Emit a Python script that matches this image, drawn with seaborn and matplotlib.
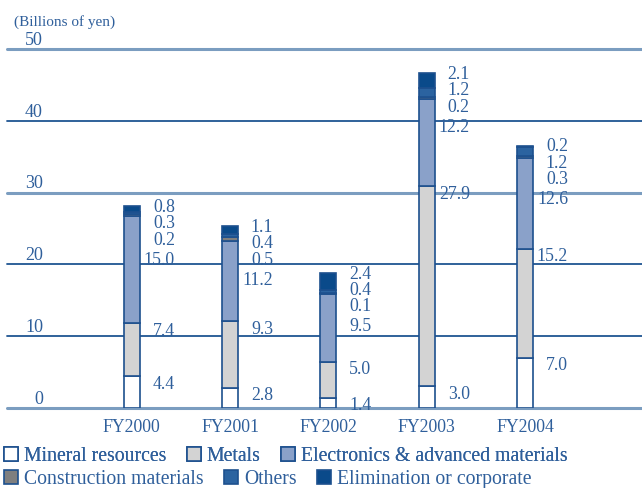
import matplotlib
matplotlib.use("Agg")
import matplotlib.pyplot as plt
from matplotlib.patches import Patch
import matplotlib.transforms as mtransforms
import numpy as np
import pandas as pd
import seaborn as sns

# Operating income by segment (billions of yen)
years = ["FY2000", "FY2001", "FY2002", "FY2003", "FY2004"]
mineral = [4.4, 2.8, 1.4, 3.0, 7.0]
metals = [7.4, 9.3, 5.0, 27.9, 15.2]
electronics = [15.0, 11.2, 9.5, 12.2, 12.6]
construction = [0.2, 0.5, 0.1, 0.2, 0.3]
others = [0.3, 0.4, 0.4, 1.2, 1.2]
elimination = [0.8, 1.1, 2.4, 2.1, 0.2]

segment_names = ["Mineral resources", "Metals", "Electronics & advanced materials",
                 "Construction materials", "Others", "Elimination or corporate"]
segment_values = [mineral, metals, electronics, construction, others, elimination]
segment_colors = ["#ffffff", "#d3d3d3", "#8aa1c9", "#7f7f7f", "#2b63a0", "#0a4a8a"]

y_ticks = [0, 10, 20, 30, 40, 50]
heavy_rules = [0, 30, 50]

TEXT = "#2f5f9b"
EDGE = "#1d508e"
DARK_LINE = "#1f5592"
LIGHT_LINE = "#7b9dc0"

sns.set_theme(style="white")
plt.rcParams["font.family"] = ["Liberation Serif", "DejaVu Serif"]

fig = plt.figure(figsize=(6.42, 4.89), dpi=100)
ax = fig.add_axes([7 / 642, 1 - 409 / 489, 1 - 7 / 642, (409 - 50) / 489])

# stacked bars, one seaborn layer per segment
bottoms = np.zeros(len(years))
for name, vals, color in zip(segment_names, segment_values, segment_colors):
    df = pd.DataFrame({"year": years, "value": vals})
    sns.barplot(data=df, x="year", y="value", ax=ax, color=color, width=0.163,
                bottom=bottoms, edgecolor=EDGE, linewidth=1.2, saturation=1,
                zorder=3)
    bottoms = bottoms + np.array(vals)

ax.set_xlim(-1.27, 5.19)
ax.set_ylim(0, 50)

# horizontal rules
for t in y_ticks:
    heavy = t in heavy_rules
    ax.axhline(t, color=LIGHT_LINE if heavy else DARK_LINE,
               lw=2.2 if heavy else 1.3, zorder=1, clip_on=False)

for s in ax.spines.values():
    s.set_visible(False)
ax.set_yticks([])
ax.set_xlabel("")
ax.set_ylabel("")
ax.tick_params(axis="x", length=0, pad=7, labelsize=12.8, labelcolor=TEXT)

# y tick labels sitting above their rules
trans = mtransforms.blended_transform_factory(fig.transFigure, ax.transData)
for t in y_ticks:
    ax.annotate(str(t), xy=(43 / 642, t), xycoords=trans, xytext=(0, 7),
                textcoords="offset points", ha="right", va="center",
                fontsize=13, color=TEXT)

fig.text(14 / 642, 1 - 22 / 489, "(Billions of yen)", ha="left", va="center",
         fontsize=11, color=TEXT)

# value labels
label_kw = dict(textcoords="offset points", ha="right", va="center",
                fontsize=12.8, color=TEXT)
for i in range(len(years)):
    top = sum(v[i] for v in segment_values)
    # mineral and metals labels beside the top of their segments
    ax.annotate(f"{mineral[i]:.1f}", xy=(i, mineral[i]), xytext=(31, -5), **label_kw)
    ax.annotate(f"{metals[i]:.1f}", xy=(i, mineral[i] + metals[i]), xytext=(31, -5), **label_kw)
    # upper segments listed downward from the bar top
    stack = [elimination[i], others[i], construction[i], electronics[i]]
    offsets = [0, -11.8, -23.6, -38]
    for v, dy in zip(stack, offsets):
        ax.annotate(f"{v:.1f}", xy=(i, top), xytext=(31, dy), **label_kw)

# legend in two rows
def legend_row(idx, y):
    handles = [Patch(facecolor=segment_colors[j], edgecolor=EDGE, linewidth=1.2,
                     label=segment_names[j]) for j in idx]
    leg = fig.legend(handles=handles, loc="center left", bbox_to_anchor=(4 / 642, y),
                     ncol=len(idx), frameon=False, fontsize=14.2, handlelength=0.72,
                     handleheight=0.72, handletextpad=0.28, columnspacing=1.05,
                     borderpad=0, borderaxespad=0)
    for txt in leg.get_texts():
        txt.set_color(TEXT)
    return leg

leg1 = legend_row([0, 1, 2], 1 - 457 / 489)
fig.add_artist(leg1)
legend_row([3, 4, 5], 1 - 480 / 489)

fig.savefig("out.png", dpi=100)
